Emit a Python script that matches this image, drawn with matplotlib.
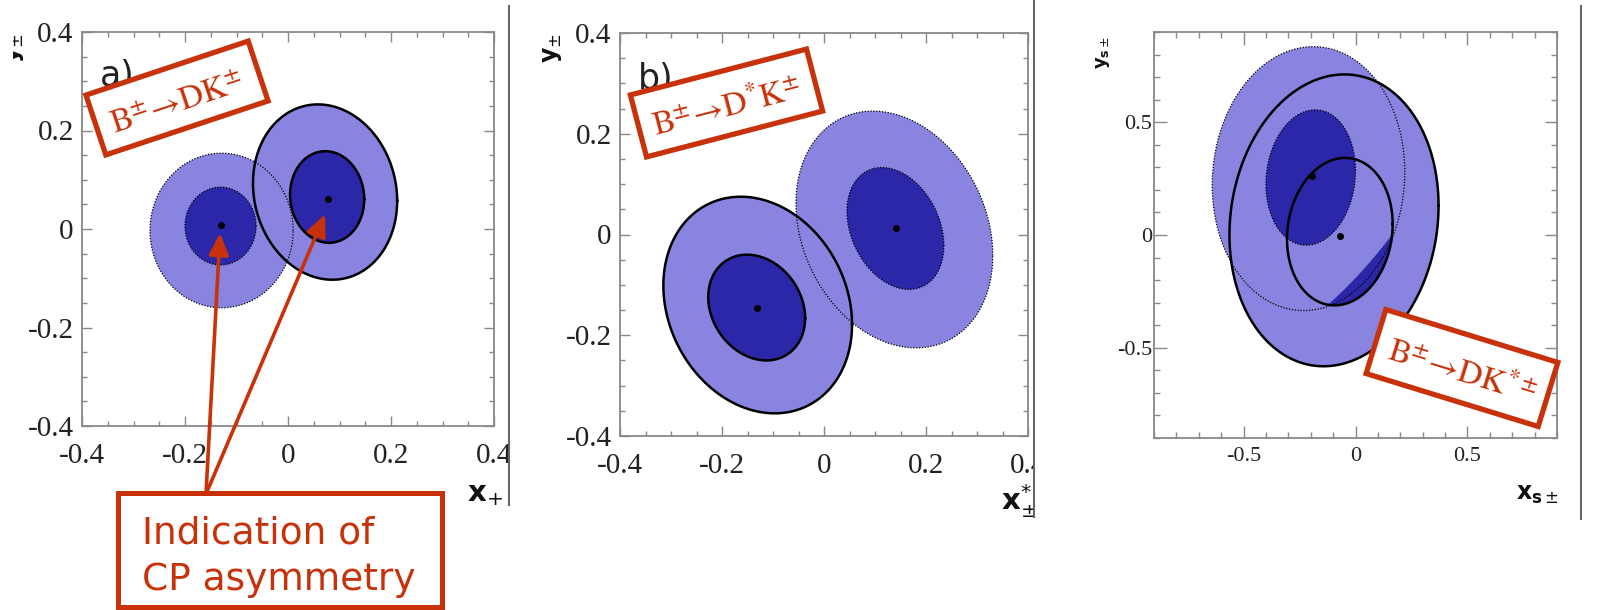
import numpy as np
import matplotlib
matplotlib.use("Agg")
import matplotlib.pyplot as plt
from matplotlib.patches import Rectangle
from matplotlib.ticker import MultipleLocator, FuncFormatter

plt.rcParams['axes.unicode_minus'] = False

# contour regions: centre x, centre y, sigma x, sigma y, correlation
# panel a) B -> DK
A_SOLID_2S = [0.072, 0.075, 0.140, 0.178, -0.10]
A_SOLID_1S = [0.076, 0.065, 0.072, 0.093, -0.05]
A_DOT_2S = [-0.129, -0.003, 0.139, 0.157, 0.0]
A_DOT_1S = [-0.131, 0.006, 0.069, 0.079, 0.0]
A_PTS_X = [0.077, -0.130]
A_PTS_Y = [0.061, 0.008]
A_ARROW_TIPS = [(-0.132, -0.008), (0.072, 0.030)]

# panel b) B -> D*K
B_SOLID_2S = [-0.130, -0.140, 0.185, 0.215, -0.18]
B_SOLID_1S = [-0.132, -0.145, 0.095, 0.105, -0.20]
B_DOT_2S = [0.138, 0.010, 0.193, 0.235, -0.22]
B_DOT_1S = [0.140, 0.012, 0.095, 0.121, -0.28]
B_PTS_X = [-0.131, 0.141]
B_PTS_Y = [-0.146, 0.012]

# panel c) B -> DK*
C_SOLID_2S = [-0.096, 0.065, 0.467, 0.647, 0.10]
C_SOLID_1S = [-0.070, 0.015, 0.236, 0.327, 0.10]
C_DOT_2S = [-0.210, 0.250, 0.430, 0.585, 0.05]
C_DOT_1S = [-0.200, 0.255, 0.200, 0.300, 0.10]
C_PTS_X = [-0.196, -0.067]
C_PTS_Y = [0.263, -0.005]
C_CRESCENT_T = [-103, -8]   # degrees along the inner solid contour

AB_TICKS = [-0.4, -0.2, 0, 0.2, 0.4]
C_TICKS = [-0.5, 0, 0.5]

LIGHT = '#8884e0'
DARK = '#2b27a8'
RED = '#c8320a'
GREY = '#888888'
W, H = 1611, 610


def ellipse_xy(p, t=None):
    cx, cy, sx, sy, rho = p
    if t is None:
        t = np.linspace(0, 2 * np.pi, 300)
    x = cx + sx * np.cos(t)
    y = cy + sy * (rho * np.cos(t) + np.sqrt(1 - rho ** 2) * np.sin(t))
    return x, y


def draw_contours(ax, solid2, solid1, dot2, dot1, px, py, fill_solid1=True):
    for p in (dot2, solid2):
        ax.fill(*ellipse_xy(p), color=LIGHT, lw=0, zorder=1)
    ax.fill(*ellipse_xy(dot1), color=DARK, lw=0, zorder=2)
    if fill_solid1:
        ax.fill(*ellipse_xy(solid1), color=DARK, lw=0, zorder=2)
    for p in (dot2, dot1):
        ax.plot(*ellipse_xy(p), color='k', lw=0.9, ls=(0, (1, 1.3)), zorder=3)
    for p in (solid2, solid1):
        ax.plot(*ellipse_xy(p), color='k', lw=1.8, zorder=4)
    ax.plot(px, py, 'o', color='k', ms=4, zorder=5)


def style_axes(ax, lim, ticks, minor, fs, xpad, ypad, major_len, minor_len):
    ax.set_xlim(lim)
    ax.set_ylim(lim)
    ax.set_xticks(ticks)
    ax.set_yticks(ticks)
    ax.xaxis.set_minor_locator(MultipleLocator(minor))
    ax.yaxis.set_minor_locator(MultipleLocator(minor))
    fmt = FuncFormatter(lambda v, pos: '0' if abs(v) < 1e-9 else f'{v:g}')
    ax.xaxis.set_major_formatter(fmt)
    ax.yaxis.set_major_formatter(fmt)
    ax.tick_params(which='both', direction='in', top=True, right=True, color=GREY, width=1)
    ax.tick_params(which='major', length=major_len)
    ax.tick_params(which='minor', length=minor_len)
    ax.tick_params(axis='x', pad=xpad)
    ax.tick_params(axis='y', pad=ypad)
    for lab in ax.get_xticklabels() + ax.get_yticklabels():
        lab.set_fontfamily('Liberation Serif')
        lab.set_fontsize(fs)
        lab.set_color('#222222')
    for s in ax.spines.values():
        s.set_color(GREY)
        s.set_linewidth(1.3)


fig = plt.figure(figsize=(W / 100, H / 100), dpi=100)

ax_a = fig.add_axes([82 / W, 1 - 426 / H, 412 / W, 394 / H])
ax_b = fig.add_axes([620 / W, 1 - 436 / H, 408 / W, 403 / H])
ax_c = fig.add_axes([1154 / W, 1 - 438 / H, 403 / W, 406 / H])

draw_contours(ax_a, A_SOLID_2S, A_SOLID_1S, A_DOT_2S, A_DOT_1S, A_PTS_X, A_PTS_Y)
draw_contours(ax_b, B_SOLID_2S, B_SOLID_1S, B_DOT_2S, B_DOT_1S, B_PTS_X, B_PTS_Y)
draw_contours(ax_c, C_SOLID_2S, C_SOLID_1S, C_DOT_2S, C_DOT_1S, C_PTS_X, C_PTS_Y,
              fill_solid1=False)

# dark crescent inside the inner solid contour of panel c
t = np.radians(np.linspace(C_CRESCENT_T[0], C_CRESCENT_T[1], 80))
arc_x, arc_y = ellipse_xy(C_SOLID_1S, t)
s = np.linspace(0, 1, 80)
ch_x = arc_x[0] + s * (arc_x[-1] - arc_x[0])
ch_y = arc_y[0] + s * (arc_y[-1] - arc_y[0])
f = 0.12
in_x = (1 - f) * ch_x + f * arc_x
in_y = (1 - f) * ch_y + f * arc_y
ax_c.fill(np.r_[arc_x, in_x[::-1]], np.r_[arc_y, in_y[::-1]], color=DARK, lw=0, zorder=2.5)

style_axes(ax_a, (-0.4, 0.4), AB_TICKS, 0.05, 21, 12, 6, 7, 3.5)
style_axes(ax_b, (-0.4, 0.4), AB_TICKS, 0.05, 21, 12, 6, 7, 3.5)
style_axes(ax_c, (-0.9, 0.9), C_TICKS, 0.1, 16, 6.5, 1.5, 9, 4.5)

ax_a.text(-0.365, 0.29, 'a)', fontsize=25, color='#222222', zorder=6)
ax_b.text(-0.365, 0.288, 'b)', fontsize=25, color='#222222', zorder=6)

# overlay in pixel coordinates for labels, boxes and arrows
ov = fig.add_axes([0, 0, 1, 1], zorder=10)
ov.set_xlim(0, W)
ov.set_ylim(H, 0)
ov.axis('off')
ov.patch.set_alpha(0)

lab_kw = dict(color='#111111', math_fontfamily='dejavusans', zorder=1)
ov.text(14, 48, r'$\mathbf{y}_{\pm}$', fontsize=17, rotation=90, ha='center', va='center', **lab_kw)
ov.text(552, 48, r'$\mathbf{y}_{\pm}$', fontsize=17, rotation=90, ha='center', va='center', **lab_kw)
ov.text(1103, 52, r'$\mathbf{y}_{\mathbf{s}\pm}$', fontsize=13, rotation=90, ha='center', va='center', **lab_kw)
ov.text(467, 501, r'$\mathbf{x}_{+}$', fontsize=21, ha='left', va='baseline', **lab_kw)
ov.text(1001, 510, r'$\mathbf{x}^{*}_{\pm}$', fontsize=21, ha='left', va='baseline', **lab_kw)
ov.text(1516, 500, r'$\mathbf{x}_{\mathbf{s}\pm}$', fontsize=17, ha='left', va='baseline', **lab_kw)

# white masks where the source picture was cropped
for x0, y0, w, h in [(0, 20, 12.5, 60), (510, 0, 28, H), (444, 505, 66, 110),
                     (1035, 0, 25, H), (975, 517, 60, 100), (1582, 0, 29, H)]:
    ov.add_patch(Rectangle((x0, y0), w, h, color='white', lw=0, zorder=2))

# separators between the pasted panels
for x, y0, y1 in [(509, 6, 505), (1034, 0, 517), (1581, 6, 519)]:
    ov.plot([x, x], [y0, y1], color='#666666', lw=1.5, zorder=3)

# rotated red boxes
boxes = [
    (177, 98, 171, 63, 18.4, r'$\mathrm{B^{\pm}\!\rightarrow\!DK^{\pm}}$'),
    (726.5, 103, 182, 64, 14.6, r'$\mathrm{B^{\pm}\!\rightarrow\!D^{*}K^{\pm}}$'),
    (1462, 368, 180, 67, -17.1, r'$\mathrm{B^{\pm}\!\rightarrow\!DK^{*\pm}}$'),
]
for cx, cy, w, h, ang, txt in boxes:
    ov.add_patch(Rectangle((cx - w / 2, cy - h / 2), w, h, angle=-ang, rotation_point='center',
                           facecolor='white', edgecolor=RED, lw=3.8, zorder=4))
    ov.text(cx, cy + 4, txt, rotation=ang, rotation_mode='anchor', ha='center', va='center',
            fontsize=24, color=RED, math_fontfamily='stix', zorder=5)

# arrows to the central values of panel a
for tip in A_ARROW_TIPS:
    ov.annotate('', xy=tip, xycoords=ax_a.transData, xytext=(206, 494), textcoords='data',
                arrowprops=dict(arrowstyle='-|>,head_length=1.1,head_width=0.5', mutation_scale=12,
                                lw=2.6, color=RED, shrinkA=0, shrinkB=0), zorder=6)

ov.add_patch(Rectangle((118, 493), 324, 114, facecolor='white', edgecolor=RED, lw=3.6, zorder=7))
ov.text(142, 543, 'Indication of', fontsize=27, color=RED, ha='left', va='baseline', zorder=8)
ov.text(142, 590, 'CP asymmetry', fontsize=27, color=RED, ha='left', va='baseline', zorder=8)

fig.savefig('out.png', dpi=100)
